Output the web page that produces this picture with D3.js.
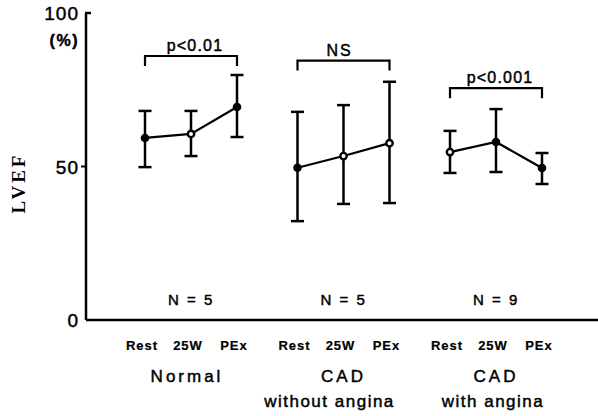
<!DOCTYPE html>
<html>
<head>
<meta charset="utf-8">
<script src="https://cdn.jsdelivr.net/npm/d3@7"></script>
<style>
  body { margin: 0; background: #fff; }
  svg { display: block; }
  text { font-family: "Liberation Sans", Arial, sans-serif; fill: #000; stroke: #000; stroke-width: 0.45px; }
</style>
</head>
<body>
<div id="chart"></div>
<script>
// data
var groups = ["Normal", "CAD wo", "CAD w"];
var groupLine1 = ["Normal", "CAD", "CAD"];
var groupLine2 = ["", "without angina", "with angina"];
var conditions = ["Rest", "25W", "PEx"];
var nLabels = ["N = 5", "N = 5", "N = 9"];
var pLabels = ["p<0.01", "NS", "p<0.001"];

var means = [[59.3, 60.6, 69.4], [49.6, 53.4, 57.6], [54.7, 58.0, 49.5]];
var upper = [[68.1, 68.1, 79.8], [67.8, 70.0, 77.6], [61.6, 68.7, 54.4]];
var lower = [[49.8, 53.4, 59.6], [32.2, 37.8, 38.1], [47.9, 48.2, 44.3]];
var hollow = [[false, true, false], [false, true, true], [true, false, false]];
var bracketLevel = [86, 84.5, 75.5];

var yTicks = [0, 50, 100];

var width = 598, height = 416;
var svg = d3.select("#chart").append("svg").attr("width", width).attr("height", height);

var y = d3.scaleLinear().domain([0, 100]).range([320, 13]);
var gx = d3.scalePoint().domain(groups).range([191, 496]);
var cx = d3.scalePoint().domain(conditions).range([-46, 46]);
var axisX = 86;

// axes
svg.append("line").attr("x1", axisX).attr("x2", axisX).attr("y1", y(100)).attr("y2", y(0))
  .attr("stroke", "#000").attr("stroke-width", 2.5);
svg.append("line").attr("x1", axisX).attr("x2", width).attr("y1", y(0)).attr("y2", y(0))
  .attr("stroke", "#000").attr("stroke-width", 2.5);
svg.append("line").attr("x1", axisX - 1).attr("x2", axisX + 5).attr("y1", y(100)).attr("y2", y(100))
  .attr("stroke", "#000").attr("stroke-width", 2.5);
svg.append("line").attr("x1", axisX - 5).attr("x2", axisX).attr("y1", y(50)).attr("y2", y(50))
  .attr("stroke", "#000").attr("stroke-width", 2);

svg.selectAll(".ytick").data(yTicks).enter().append("text")
  .attr("x", 79).attr("y", function(d) { return y(d) + 7; })
  .attr("text-anchor", "end").style("font-size", "19px").style("letter-spacing", "1px")
  .text(function(d) { return d; });
svg.append("text").attr("x", 79).attr("y", 46).attr("text-anchor", "end")
  .style("font-size", "16px").style("font-weight", "bold").style("letter-spacing", "1.5px").text("(%)");

svg.append("text").attr("transform", "translate(25," + 183 + ") rotate(-90)")
  .attr("text-anchor", "middle")
  .style("font-family", "'Liberation Serif', 'Times New Roman', serif")
  .style("font-size", "19px").style("font-weight", "bold").style("stroke-width", "0px")
  .style("letter-spacing", "3px").text("LVEF");

// groups
groups.forEach(function(g, i) {
  var gg = svg.append("g").attr("transform", "translate(" + gx(g) + ",0)");
  var pts = conditions.map(function(c, j) {
    return { c: c, m: means[i][j], hi: upper[i][j], lo: lower[i][j], open: hollow[i][j] };
  });

  // error bars
  var eb = gg.selectAll(".eb").data(pts).enter().append("g");
  eb.append("line").attr("x1", function(d) { return cx(d.c); }).attr("x2", function(d) { return cx(d.c); })
    .attr("y1", function(d) { return y(d.hi); }).attr("y2", function(d) { return y(d.lo); })
    .attr("stroke", "#000").attr("stroke-width", 2.5);
  eb.append("line").attr("x1", function(d) { return cx(d.c) - 6.5; }).attr("x2", function(d) { return cx(d.c) + 6.5; })
    .attr("y1", function(d) { return y(d.hi); }).attr("y2", function(d) { return y(d.hi); })
    .attr("stroke", "#000").attr("stroke-width", 2.5);
  eb.append("line").attr("x1", function(d) { return cx(d.c) - 6.5; }).attr("x2", function(d) { return cx(d.c) + 6.5; })
    .attr("y1", function(d) { return y(d.lo); }).attr("y2", function(d) { return y(d.lo); })
    .attr("stroke", "#000").attr("stroke-width", 2.5);

  // mean line
  var line = d3.line().x(function(d) { return cx(d.c); }).y(function(d) { return y(d.m); });
  gg.append("path").datum(pts).attr("d", line).attr("fill", "none")
    .attr("stroke", "#000").attr("stroke-width", 2.2);

  gg.selectAll(".pt").data(pts).enter().append("circle")
    .attr("cx", function(d) { return cx(d.c); }).attr("cy", function(d) { return y(d.m); })
    .attr("r", function(d) { return d.open ? 3.2 : 4.3; })
    .attr("fill", function(d) { return d.open ? "#fff" : "#000"; })
    .attr("stroke", "#000").attr("stroke-width", function(d) { return d.open ? 2.4 : 0; });

  // significance bracket
  var bx0 = cx(conditions[0]), bx1 = cx(conditions[2]), by = y(bracketLevel[i]);
  gg.append("path")
    .attr("d", "M" + bx0 + "," + (by + 10) + "V" + by + "H" + bx1 + "V" + (by + 10))
    .attr("fill", "none").attr("stroke", "#000").attr("stroke-width", 2.2);
  gg.append("text").attr("x", i === 1 ? -4 : 4).attr("y", by - 5).attr("text-anchor", "middle")
    .style("font-size", "16px").style("letter-spacing", i === 1 ? "2px" : "1.2px").text(pLabels[i]);

  // N labels
  gg.append("text").attr("x", 0).attr("y", 305).attr("text-anchor", "middle")
    .style("font-size", "15px").style("letter-spacing", "1.5px").style("word-spacing", "1px").text(nLabels[i]);

  // condition labels
  gg.selectAll(".cl").data(conditions).enter().append("text")
    .attr("x", function(d) { return cx(d) - 3; }).attr("y", 350).attr("text-anchor", "middle")
    .style("font-size", "13px").style("font-weight", "bold").style("letter-spacing", "1px")
    .style("stroke-width", "0.2px")
    .text(function(d) { return d; });

  gg.append("text").attr("x", i === 0 ? -4 : 0).attr("y", 382).attr("text-anchor", "middle")
    .style("font-size", "17px").style("letter-spacing", "3px").text(groupLine1[i]);
  if (groupLine2[i]) {
    gg.append("text").attr("x", i === 1 ? -14 : -3).attr("y", 407).attr("text-anchor", "middle")
      .style("font-size", "17px").style("letter-spacing", "1.5px").text(groupLine2[i]);
  }
});
</script>
</body>
</html>
